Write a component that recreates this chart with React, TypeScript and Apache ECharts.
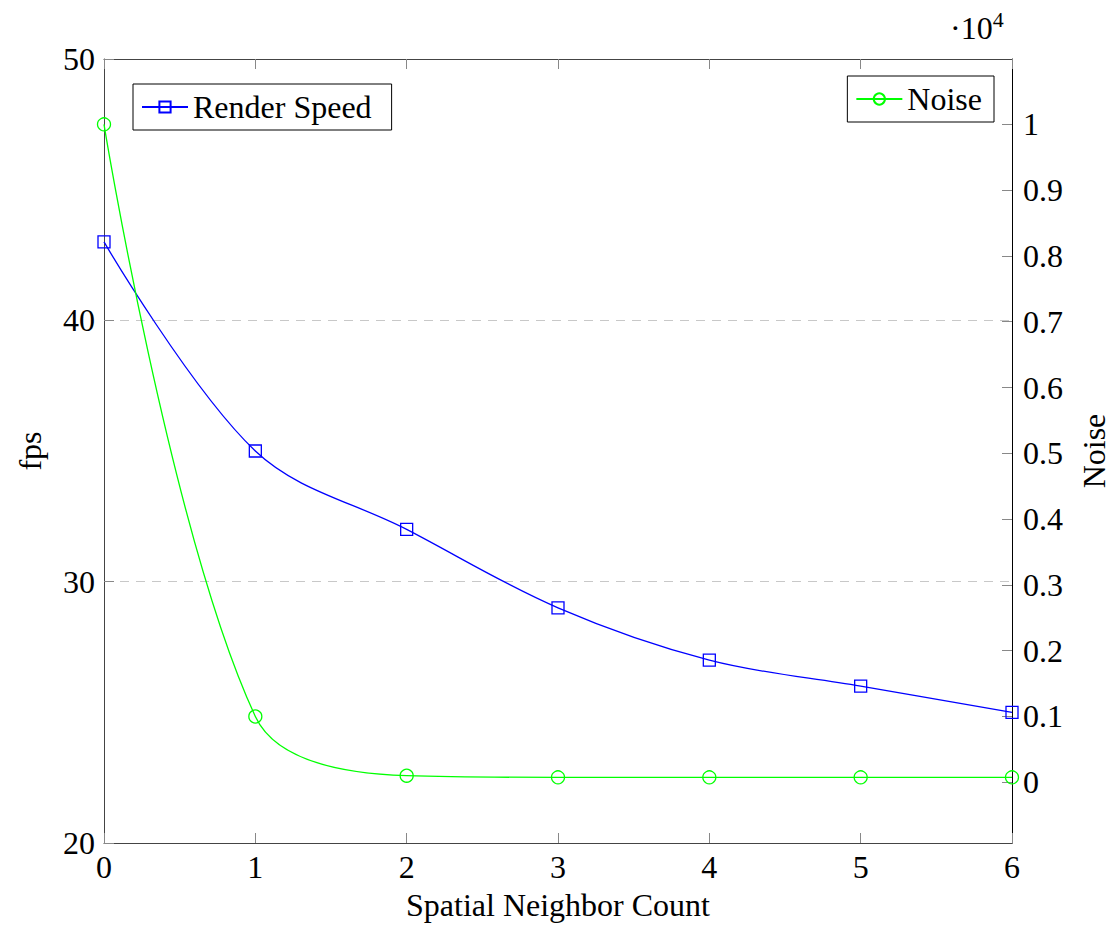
import React, { useEffect, useRef } from "react";
import * as echarts from "echarts";

const categories = [0, 1, 2, 3, 4, 5, 6];
const renderSpeed = [43, 35, 32, 29, 27, 26, 25];
const noise = [10000, 1000, 100, 75, 75, 75, 75];
const noiseTicks = [0, 1000, 2000, 3000, 4000, 5000, 6000, 7000, 8000, 9000, 10000];

const FONT = "'Liberation Serif', 'DejaVu Serif', serif";
const FS = 32;

export default function App() {
  const ref = useRef<HTMLDivElement>(null);
  useEffect(() => {
    if (!ref.current) return;
    const chart = echarts.init(ref.current, null, { renderer: "svg", width: 1115, height: 925 });
    const tickStyle = { color: "#888", width: 1 };
    chart.setOption({
      animation: false,
      backgroundColor: "#fff",
      textStyle: { fontFamily: FONT, color: "#000" },
      grid: { left: 104, right: 103, top: 59, bottom: 82, containLabel: false, outerBoundsMode: "none" },
      legend: [
        {
          data: ["Render Speed"],
          left: 133,
          top: 84,
          orient: "horizontal",
          borderColor: "#000",
          borderWidth: 1,
          padding: [7, 20, 7, 8],
          itemWidth: 46,
          itemHeight: 14,
          itemGap: 6,
          textStyle: { fontFamily: FONT, fontSize: FS, color: "#000" },
        },
        {
          data: ["Noise"],
          right: 121,
          top: 76,
          borderColor: "#000",
          borderWidth: 1,
          padding: [7, 12, 7, 8],
          itemWidth: 46,
          itemHeight: 14,
          textStyle: { fontFamily: FONT, fontSize: FS, color: "#000" },
        },
      ],
      xAxis: [
        {
          type: "value",
          min: 0,
          max: 6,
          interval: 1,
          position: "bottom",
          name: "Spatial Neighbor Count",
          nameLocation: "middle",
          nameGap: 47,
          nameTextStyle: { fontFamily: FONT, fontSize: FS, lineHeight: 30, color: "#000" },
          axisLine: { show: true, onZero: false, lineStyle: { color: "#444", width: 1 } },
          axisTick: { show: true, inside: true, length: 10, lineStyle: tickStyle },
          axisLabel: { fontFamily: FONT, fontSize: FS, color: "#000", margin: 8 },
          splitLine: { show: false },
        },
        {
          type: "value",
          min: 0,
          max: 6,
          interval: 1,
          position: "top",
          axisLine: { show: true, onZero: false, lineStyle: { color: "#444", width: 1 } },
          axisTick: { show: true, inside: true, length: 10, lineStyle: tickStyle },
          axisLabel: { show: false },
          splitLine: { show: false },
        },
      ],
      yAxis: [
        {
          type: "value",
          min: 20,
          max: 50,
          interval: 10,
          position: "left",
          name: "fps",
          nameLocation: "middle",
          nameRotate: 90,
          nameGap: 58,
          nameTextStyle: { fontFamily: FONT, fontSize: FS, color: "#000" },
          axisLine: { show: true, onZero: false, lineStyle: { color: "#444", width: 1 } },
          axisTick: { show: true, inside: true, length: 10, lineStyle: tickStyle },
          axisLabel: { fontFamily: FONT, fontSize: FS, color: "#000", margin: 9 },
          splitLine: {
            show: true,
            showMinLine: false,
            showMaxLine: false,
            lineStyle: { color: "#c8c8c8", type: [9, 7], width: 1 },
          },
        },
        {
          type: "value",
          min: -923,
          max: 10993,
          position: "right",
          name: "Noise",
          nameLocation: "middle",
          nameRotate: 90,
          nameGap: 67,
          nameTextStyle: { fontFamily: FONT, fontSize: FS, lineHeight: 30, color: "#000" },
          axisLine: { show: true, onZero: false, lineStyle: { color: "#000", width: 1 } },
          axisTick: { show: true, inside: true, length: 10, lineStyle: tickStyle, customValues: noiseTicks },
          axisLabel: {
            fontFamily: FONT,
            fontSize: FS,
            color: "#000",
            margin: 11,
            customValues: noiseTicks,
            formatter: (v: number) => String(Math.round(v / 1000) / 10),
          },
          splitLine: { show: false },
        },
      ],
      graphic: [
        {
          type: "text",
          left: 950,
          top: 8,
          style: {
            text: "{a|·10}{b|4}",
            rich: {
              a: { fontFamily: FONT, fontSize: FS, fill: "#000", verticalAlign: "bottom" },
              b: { fontFamily: FONT, fontSize: 22, fill: "#000", verticalAlign: "top", padding: [0, 0, 14, 0] },
            },
          },
        },
      ],
      series: [
        {
          name: "Render Speed",
          type: "line",
          xAxisIndex: 0,
          yAxisIndex: 0,
          smooth: 0.35,
          clip: false,
          data: categories.map((c, i) => [c, renderSpeed[i]]),
          symbol: "rect",
          symbolSize: 12,
          lineStyle: { color: "#0000ff", width: 1.3 },
          itemStyle: { color: "rgba(255,255,255,0)", borderColor: "#0000ff", borderWidth: 1.3 },
          emphasis: { disabled: true },
        },
        {
          name: "Noise",
          type: "line",
          xAxisIndex: 0,
          yAxisIndex: 1,
          smooth: 0.35,
          clip: false,
          data: categories.map((c, i) => [c, noise[i]]),
          symbol: "circle",
          symbolSize: 13,
          lineStyle: { color: "#00ff00", width: 1.3 },
          itemStyle: { color: "rgba(255,255,255,0)", borderColor: "#00ff00", borderWidth: 1.3 },
          emphasis: { disabled: true },
        },
      ],
    });
    return () => chart.dispose();
  }, []);
  return <div ref={ref} style={{ width: 1115, height: 925, position: "absolute", left: 0, top: 0 }} />;
}
